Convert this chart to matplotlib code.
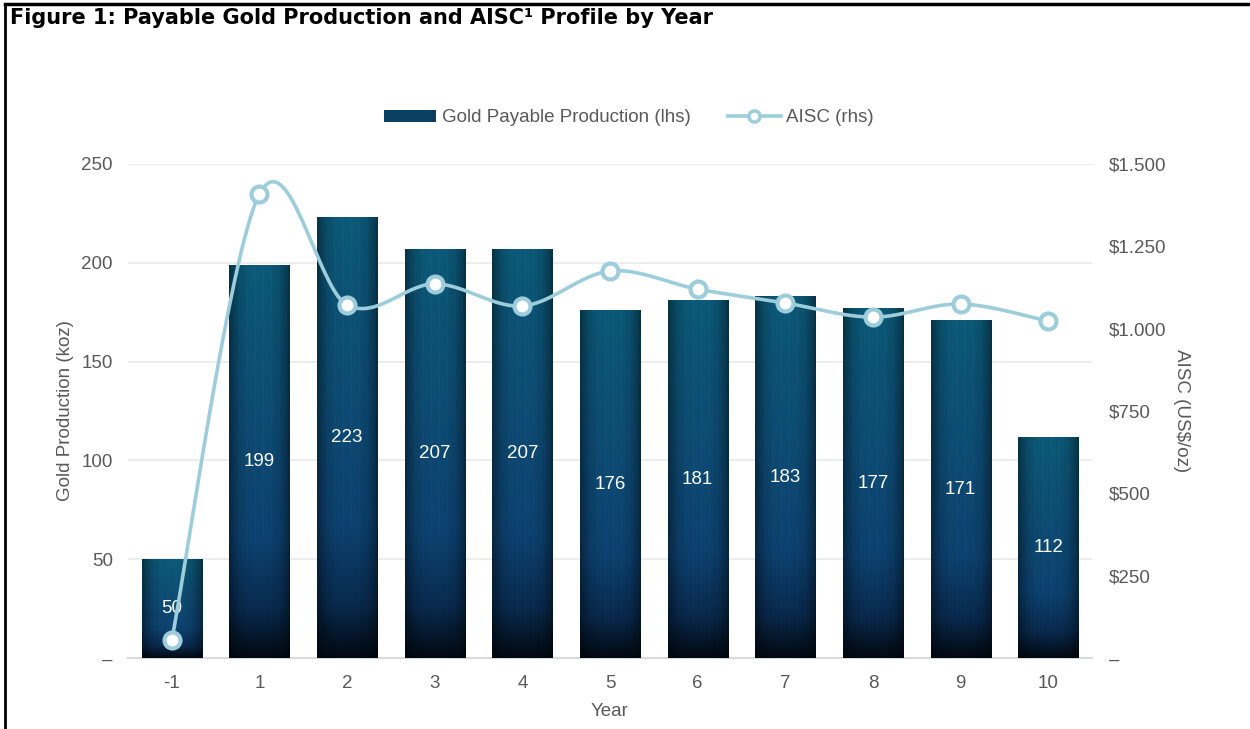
import numpy as np
import matplotlib
matplotlib.use("Agg")
import matplotlib.pyplot as plt
from matplotlib.lines import Line2D
from matplotlib.patches import Patch
from matplotlib.ticker import FixedLocator, FuncFormatter

# ---- data ----
years = ["-1", "1", "2", "3", "4", "5", "6", "7", "8", "9", "10"]
production = [50, 199, 223, 207, 207, 176, 181, 183, 177, 171, 112]
aisc = [55, 1409, 1072, 1136, 1069, 1175, 1120, 1078, 1035, 1075, 1023]
left_ticks = [0, 50, 100, 150, 200, 250]
right_ticks = [0, 250, 500, 750, 1000, 1250, 1500]

plt.rcParams['font.family'] = ['Liberation Sans', 'DejaVu Sans']

GRAY = '#595959'
LINEC = '#9dcddb'
FS = 13.5

fig = plt.figure(figsize=(12.5, 7.29), dpi=100)
ax = fig.add_axes([128/1250, 71/729, (1092-128)/1250, (658-164)/729])
ax2 = ax.twinx()

x = np.arange(len(years))
bw = 0.685

bars = ax.bar(x, production, width=bw, color='#0a3a5c', zorder=2)

# gradient texture for bars
H, W = 300, 80
t = np.linspace(1, 0, H)  # row 0 = top
stops_t = [0.0, 0.04, 0.12, 0.3, 0.6, 0.85, 1.0]
stops_c = np.array([[3, 10, 20], [5, 20, 38], [9, 42, 78], [13, 66, 112],
                    [14, 76, 116], [13, 84, 118], [12, 90, 120]]) / 255.0
img = np.zeros((H, W, 3))
for c in range(3):
    img[:, :, c] = np.interp(t, stops_t, stops_c[:, c])[:, None]
u = np.linspace(0, 1, W)[None, :]
edge = 1 - 0.45 * (np.abs(u - 0.5) * 2) ** 3
streak = (1 + 0.035 * np.sin(u * 2 * np.pi * 11.3) * np.cos(u * 2 * np.pi * 3.7)
          + 0.025 * np.sin(u * 2 * np.pi * 23.1 + 1.3))
img = np.clip(img * (edge * streak)[:, :, None], 0, 1)

for b in bars:
    im = ax.imshow(img, extent=[b.get_x(), b.get_x() + b.get_width(), 0, b.get_height()],
                   aspect='auto', zorder=2.1, interpolation='bilinear')
    im.set_clip_path(b)

for xi, v in zip(x, production):
    ax.text(xi, v / 2, f"{v}", ha='center', va='center', color='white', fontsize=FS, zorder=3)

ax.set_xlim(-0.5, len(years) - 0.5)
ax.set_ylim(0, 250)
ax.yaxis.set_major_locator(FixedLocator(left_ticks))
ax.yaxis.set_major_formatter(FuncFormatter(lambda v, p: '–' if v == 0 else f"{int(v)}"))
ax.set_xticks(x)
ax.set_xticklabels(years)
ax.grid(axis='y', color='#ececec', linewidth=1.3, zorder=0)
ax.set_axisbelow(True)
for s in ['top', 'right', 'left']:
    ax.spines[s].set_visible(False)
ax.spines['bottom'].set_color('#d9d9d9')
ax.spines['bottom'].set_linewidth(1.5)
ax.spines['bottom'].set_zorder(1)
ax.tick_params(axis='both', length=0, colors=GRAY, labelsize=FS)
ax.tick_params(axis='x', pad=12.5)
ax.tick_params(axis='y', pad=11)
ax.set_xlabel('Year', color=GRAY, fontsize=FS, labelpad=8)
ax.set_ylabel('Gold Production (koz)', color=GRAY, fontsize=FS, labelpad=5)

# smooth line (Catmull-Rom style bezier)
px = x.astype(float)
py = np.array(aisc, dtype=float)
n = len(px)
cx, cy = [], []
for i in range(n - 1):
    p0 = (px[max(i - 1, 0)], py[max(i - 1, 0)])
    p1 = (px[i], py[i])
    p2 = (px[i + 1], py[i + 1])
    p3 = (px[min(i + 2, n - 1)], py[min(i + 2, n - 1)])
    b1 = (p1[0] + (p2[0] - p0[0]) / 6, p1[1] + (p2[1] - p0[1]) / 6)
    b2 = (p2[0] - (p3[0] - p1[0]) / 6, p2[1] - (p3[1] - p1[1]) / 6)
    tt = np.linspace(0, 1, 40)
    bx = (1-tt)**3*p1[0] + 3*(1-tt)**2*tt*b1[0] + 3*(1-tt)*tt**2*b2[0] + tt**3*p2[0]
    by = (1-tt)**3*p1[1] + 3*(1-tt)**2*tt*b1[1] + 3*(1-tt)*tt**2*b2[1] + tt**3*p2[1]
    cx.extend(bx); cy.extend(by)
ax2.plot(cx, cy, color=LINEC, linewidth=2.6, zorder=3, solid_capstyle='round')
ax2.plot(px, py, linestyle='none', marker='o', markersize=11.5, markerfacecolor='white',
         markeredgecolor=LINEC, markeredgewidth=3, zorder=4)
ax2.set_ylim(0, 1500)
ax2.yaxis.set_major_locator(FixedLocator(right_ticks))
ax2.yaxis.set_major_formatter(FuncFormatter(
    lambda v, p: '–' if v == 0 else ('$' + f"{int(v):,}".replace(',', '.'))))
for s in ['top', 'right', 'left', 'bottom']:
    ax2.spines[s].set_visible(False)
ax2.tick_params(axis='y', length=0, colors=GRAY, labelsize=FS, pad=12)
ax2.set_ylabel('AISC (US$/oz)', color=GRAY, fontsize=FS, rotation=-90, labelpad=17)

# legend
handles = [Patch(facecolor='#0b3f62', edgecolor='none'),
           Line2D([0], [0], color=LINEC, linewidth=2.6, marker='o', markersize=8,
                  markerfacecolor='white', markeredgecolor=LINEC, markeredgewidth=2.5)]
fig.legend(handles, ['Gold Payable Production (lhs)', 'AISC (rhs)'], loc='center',
           bbox_to_anchor=(0.503, 1 - 118/729), ncol=2, frameon=False, fontsize=FS,
           labelcolor=GRAY, handlelength=2.8, handleheight=0.55, columnspacing=2.0,
           handletextpad=0.3)

# title and border
fig.text(10/1250, 1 - 18/729, 'Figure 1: Payable Gold Production and AISC¹ Profile by Year',
         fontsize=15, fontweight='bold', family='DejaVu Sans', va='center', ha='left')
fig.add_artist(Line2D([5/1250, 1], [1 - 3.5/729, 1 - 3.5/729], color='black', linewidth=2.5,
                      transform=fig.transFigure))
fig.add_artist(Line2D([5/1250, 5/1250], [0, 1 - 3.5/729], color='black', linewidth=2.0,
                      transform=fig.transFigure))

fig.savefig('out.png', dpi=100)
